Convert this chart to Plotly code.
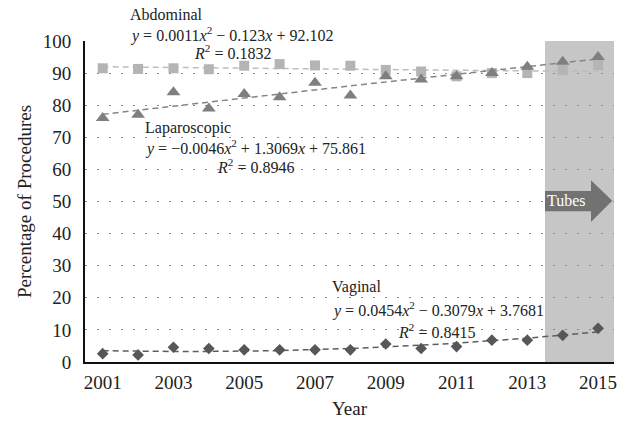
import numpy as np
import plotly.graph_objects as go

# Datos
anios = list(range(2001, 2016))
abdominal = [91.5, 91.3, 91.5, 91.2, 92.3, 92.8, 92.4, 92.3, 91.0, 90.5, 89.0, 90.0, 90.0, 91.0, 92.5]
laparoscopica = [76.0, 77.0, 84.0, 79.0, 83.5, 82.5, 87.0, 83.0, 89.0, 88.0, 89.0, 90.0, 92.0, 93.5, 95.0]
vaginal = [2.6, 2.2, 4.6, 4.2, 3.8, 3.8, 3.8, 3.8, 5.6, 4.2, 4.8, 6.8, 6.8, 8.3, 10.5]

# Coeficientes de las tendencias polinómicas (x = 1..15)
coef_abd = [0.0011, -0.123, 92.102]
coef_lap = [-0.0046, 1.3069, 75.861]
coef_vag = [0.0454, -0.3079, 3.7681]

ticks_x = list(range(2001, 2016, 2))
ticks_y = list(range(0, 101, 10))

FUENTE = "Liberation Serif"

fig = go.Figure()

# Zona "Tubes"
fig.add_shape(type="rect", xref="x", yref="paper", x0=2013.5, x1=2015.45, y0=0, y1=1,
              fillcolor="#c6c6c6", line_width=0, layer="below")

# Flecha
fig.add_shape(type="path", xref="x", yref="y",
              path="M 2013.5 47 L 2014.8 47 L 2014.8 43.6 L 2015.4 50.2 L 2014.8 56.6 L 2014.8 53.3 L 2013.5 53.3 Z",
              fillcolor="#727272", line_width=0, layer="above")

x_fino = np.linspace(1, 15, 100)


def tendencia(coef, color, nombre):
    y = np.polyval(coef, x_fino)
    fig.add_trace(go.Scatter(x=x_fino + 2000, y=y, mode="lines",
                             line=dict(color=color, width=1.5, dash="6px,4px"),
                             showlegend=False, hoverinfo="skip", name=nombre))


tendencia(coef_abd, "#bdbdbd", "Tendencia abdominal")
fig.add_trace(go.Scatter(x=anios, y=abdominal, mode="markers", name="Abdominal",
                         marker=dict(symbol="square", size=10, color="#b4b4b4")))
tendencia(coef_lap, "#858585", "Tendencia laparoscópica")
fig.add_trace(go.Scatter(x=anios, y=laparoscopica, mode="markers", name="Laparoscopic",
                         marker=dict(symbol="triangle-up", size=12, color="#7f7f7f")))
tendencia(coef_vag, "#5e5e5e", "Tendencia vaginal")
fig.add_trace(go.Scatter(x=anios, y=vaginal, mode="markers", name="Vaginal",
                         marker=dict(symbol="diamond", size=9, color="#575757")))


def eq_texto(coef):
    a, b, c = coef
    sa = f"{a:.4f}".rstrip("0") if a >= 0 else f"−{abs(a):.4f}".rstrip("0")
    sb = ("+ " if b >= 0 else "− ") + f"{abs(b):g}"
    return f"<i>y</i> = {sa}<i>x</i><sup>2</sup> {sb}<i>x</i> + {c:g}"


anotaciones = [
    ("Abdominal", 0.081, 1.084, "left"),
    (eq_texto(coef_abd), 0.081, 1.019, "left"),
    ("<i>R</i><sup>2</sup> = 0.1832", 0.278, 0.966, "center"),
    ("Laparoscopic", 0.110, 0.729, "left"),
    (eq_texto(coef_lap), 0.110, 0.667, "left"),
    ("<i>R</i><sup>2</sup> = 0.8946", 0.323, 0.611, "center"),
    ("Vaginal", 0.463, 0.234, "left"),
    (eq_texto(coef_vag), 0.463, 0.165, "left"),
    ("<i>R</i><sup>2</sup> = 0.8415", 0.664, 0.097, "center"),
]
for texto, ax, ay, anc in anotaciones:
    fig.add_annotation(text=texto, xref="paper", yref="paper", x=ax, y=ay,
                       xanchor=anc, yanchor="middle", showarrow=False,
                       font=dict(family=FUENTE, size=16, color="#222222"))

fig.add_annotation(text="Tubes", xref="x", yref="y", x=2014.1, y=50.2,
                   showarrow=False, font=dict(family=FUENTE, size=16, color="white"))

fig.update_layout(
    width=624, height=421,
    margin=dict(l=85, r=10, t=41, b=59),
    plot_bgcolor="white", paper_bgcolor="white",
    showlegend=False,
    font=dict(family=FUENTE, color="#222222"),
    xaxis=dict(range=[2000.5, 2015.45], tickvals=ticks_x, showgrid=False,
               showline=True, linecolor="#111111", linewidth=2, ticks="",
               tickfont=dict(size=19), title=dict(text="Year", font=dict(size=19), standoff=10),
               zeroline=False, automargin=False, ticklabelstandoff=2),
    yaxis=dict(range=[0, 100], tickvals=ticks_y, showgrid=True,
               gridcolor="#8a8a8a", griddash="2px,10px", gridwidth=1,
               showline=True, linecolor="#111111", linewidth=2, ticks="",
               tickfont=dict(size=19), title=dict(text="Percentage of Procedures", font=dict(size=19), standoff=6),
               zeroline=False, automargin=False, ticklabelstandoff=8),
)

fig.write_html("out.html", config={"displayModeBar": False},
               post_script="document.body.style.margin='0';")
